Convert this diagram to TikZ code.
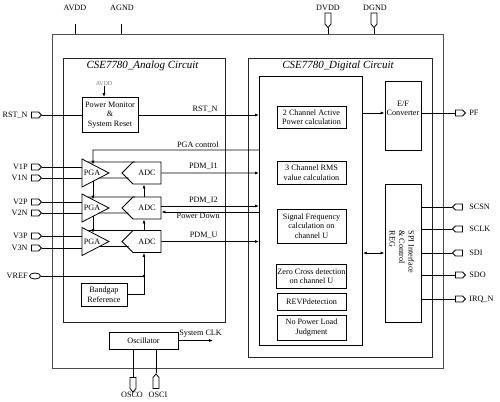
\documentclass[tikz,border=0pt]{standalone}
\usepackage{fontspec}
\setmainfont{Liberation Serif}
\usetikzlibrary{positioning,calc,shapes.geometric,shapes.symbols,arrows.meta}
\begin{document}
\begin{tikzpicture}[x=1bp,y=-1bp,line width=0.8bp,
  every node/.style={font=\fontsize{8.2}{9.5}\selectfont, inner sep=0pt},
  box/.style={draw, align=center, inner sep=1bp},
  subbox/.style={box, minimum width=69bp},
  padh/.style={draw, signal, signal pointer angle=90, minimum width=10bp, minimum height=6bp},
  padv/.style={draw, signal, signal pointer angle=80, minimum width=6bp, minimum height=11bp},
  adc/.style={draw, signal, signal to=west, signal pointer angle=90, minimum width=39bp, minimum height=22bp},
  arr/.style={-{Latex[length=4bp,width=3bp]}},
  title/.style={font=\fontsize{11}{12}\selectfont\itshape}]
  \useasboundingbox (0,0) rectangle (500,401);

  % outlines
  \node[draw=black!70, line width=1bp, minimum width=391bp, minimum height=334bp, anchor=north west] (chip) at (52,34) {};
  \node[draw=black!85, minimum width=162bp, minimum height=264bp, anchor=north west] (analog) at (63,58) {};
  \node[draw=black!85, minimum width=184bp, minimum height=299bp, anchor=north west] (digital) at (248,58) {};
  \node[draw, minimum width=103bp, minimum height=269bp, anchor=north west] (core) at (259,76) {};
  \node[title] (atitle) at (142.5,66) {CSE7780\_Analog Circuit};
  \node[title] (dtitle) at (338,66) {CSE7780\_Digital Circuit};

  % supply pins
  \coordinate (avdd) at (75,24);
  \coordinate (agnd) at (121,24);
  \node[padv, signal to=south] (dvdd) at (328,18.5) {};
  \node[padv, signal to=south] (dgnd) at (374,18.5) {};
  \foreach \n/\t/\x in {avdd/AVDD/75, agnd/AGND/122, dvdd/DVDD/328, dgnd/DGND/375}
    \node (\n-lbl) at (\x,7.5) {\t};
  \foreach \n in {avdd,agnd,dvdd,dgnd}
    \draw (\n) -- (\n |- chip.north);

  % left pins
  \foreach \n/\t/\y in {rstn/RST\_N/115, v1p/V1P/167, v1n/V1N/178, v2p/V2P/202,
                        v2n/V2N/213, v3p/V3P/236, v3n/V3N/248} {
    \node[padh, signal to=east] (\n) at (35,\y) {};
    \node[anchor=east] (\n-lbl) at (28,\y) {\t};
  }
  \node[draw, ellipse, minimum width=11bp, minimum height=6bp] (vref) at (35,276) {};
  \node[anchor=east] (vref-lbl) at (28,276) {VREF};

  % power monitor
  \node[box, minimum width=56bp, minimum height=35bp] (pm) at (110,115) {Power Monitor\\\&\\System Reset};
  \node[font=\fontsize{6}{7}\selectfont, text=black!50] (pm-avdd) at (104,84) {AVDD};
  \draw[arr] (pm-avdd) -- (pm.north -| pm-avdd);
  \draw (rstn) -- (pm);
  \draw[arr] (pm) -- (pm -| core.west);
  \node[anchor=south east] (rst-lbl) at (218,113) {RST\_N};

  % PGA and ADC channels
  \foreach \i/\m in {1/173,2/208,3/241.5} {
    \draw (82,{\m-14}) coordinate (pga\i t) -- (109,\m) coordinate (pga\i a)
      -- (82,{\m+14}) coordinate (pga\i b) -- cycle;
    \node (pga\i) at (92,\m) {PGA};
    \node[adc] (adc\i) at (147,\m) {ADC};
    \draw ($(pga\i t)!0.21!(pga\i a)$) -- (135,{\m-11});
    \draw ($(pga\i b)!0.64!(pga\i a)$) -- (128.5,{\m+5});
  }
  \foreach \i/\p/\n in {1/v1p/v1n, 2/v2p/v2n, 3/v3p/v3n} {
    \draw (\p) -- (\p -| pga\i t);
    \draw (\n) -- (\n -| pga\i t);
  }
  \coordinate (pgac) at (93,150);
  \draw[arr] (pgac -| core.west) -- (pgac) -- ($(pga1t)!0.407!(pga1a)$);
  \draw[arr] ($(pga1b)!0.407!(pga1a)$) -- ($(pga2t)!0.407!(pga2a)$);
  \draw[arr] ($(pga2b)!0.407!(pga2a)$) -- ($(pga3t)!0.407!(pga3a)$);
  \node[anchor=south east] (pgac-lbl) at (219,148) {PGA control};

  \draw[arr] ([xshift=-3bp]adc2.north) -- ([xshift=-3bp]adc1.south);
  \draw[arr] ([xshift=-3bp]adc3.north) -- ([xshift=-3bp]adc2.south);
  \draw[arr] (adc1) -- (adc1 -| core.west);
  \draw[arr] ([yshift=2bp]adc2.east) -- ([yshift=2bp]adc2.east -| core.west);
  \draw[arr] ([yshift=-4bp]adc2.east -| core.west) -- ([yshift=-4bp]adc2.east);
  \draw[arr] (adc3) -- (adc3 -| core.west);
  \node[anchor=south east] (pdmi1-lbl) at (218,170) {PDM\_I1};
  \node[anchor=south east] (pdmi2-lbl) at (218,204) {PDM\_I2};
  \node[anchor=north east] (pd-lbl) at (220,213) {Power Down};
  \node[anchor=south east] (pdmu-lbl) at (218,239) {PDM\_U};

  % reference
  \coordinate (vj) at ([xshift=-3bp]adc3.south |- vref);
  \node[box, minimum width=46bp, minimum height=23bp] (bg) at (104,294.5) {Bandgap\\Reference};
  \draw (vref) -- (vj);
  \draw (bg.east) -| (vj);
  \draw[arr] (vj) -- ([xshift=-3bp]adc3.south);
  \fill (vj) circle (1.3bp);

  % oscillator
  \node[box, minimum width=69bp, minimum height=17bp] (osc) at (143.5,340.5) {Oscillator};
  \coordinate (clk) at (213,340.5);
  \draw[arr] (osc.east) -- (clk);
  \node[anchor=south west] (clk-lbl) at (179,338) {System CLK};
  \node[padv, signal to=south] (osco) at (133,383) {};
  \node[padv, signal to=north] (osci) at (156,383) {};
  \draw (osc.south -| osco) -- (osco);
  \draw (osc.south -| osci) -- (osci);
  \node (osco-lbl) at (132,395) {OSCO};
  \node (osci-lbl) at (158,395) {OSCI};

  % digital blocks
  \foreach \n/\y/\h/\t in {act/117/22/{2 Channel Active\\Power calculation},
      rms/172.5/23/{3 Channel RMS\\value calculation},
      freq/226/34/{Signal Frequency\\calculation on\\channel U},
      zero/276/24/{Zero Cross detection\\on channel U},
      revp/301.5/17/{REVPdetection},
      noload/327.5/25/{No Power Load\\Judgment}}
    \node[subbox, minimum height=\h bp] (\n) at (311.5,\y) {\t};

  \node[draw, minimum width=36bp, minimum height=69bp] (ef) at (403,115.5) {};
  \node[align=center] (ef-txt) at (403,108.5) {E/F\\Converter};
  \node[draw, minimum width=36bp, minimum height=138bp] (spi) at (403,253) {};
  \node[rotate=-90, align=left] (spi-txt) at (402,252) {SPI Interface\\\& Control\\REG};
  \draw[{Latex[length=4bp,width=3bp]}-{Latex[length=4bp,width=3bp]}] (core.east |- spi) -- (spi.west);

  % right pins
  \foreach \n/\t/\y/\d in {pf/PF/113/east, scsn/SCSN/207/west, sclk/SCLK/229/west,
                           sdi/SDI/253/west, sdo/SDO/275/east, irqn/IRQ\_N/299/east} {
    \node[padh, signal to=\d] (\n) at (459,\y) {};
    \node[anchor=west] (\n-lbl) at (469,\y) {\t};
  }
  \draw[arr] (core.east |- pf) -- (ef.west |- pf);
  \draw (ef.east |- pf) -- (pf);
  \foreach \n in {scsn,sclk,sdi,sdo,irqn}
    \draw (spi.east |- \n) -- (\n);
\end{tikzpicture}
\end{document}
